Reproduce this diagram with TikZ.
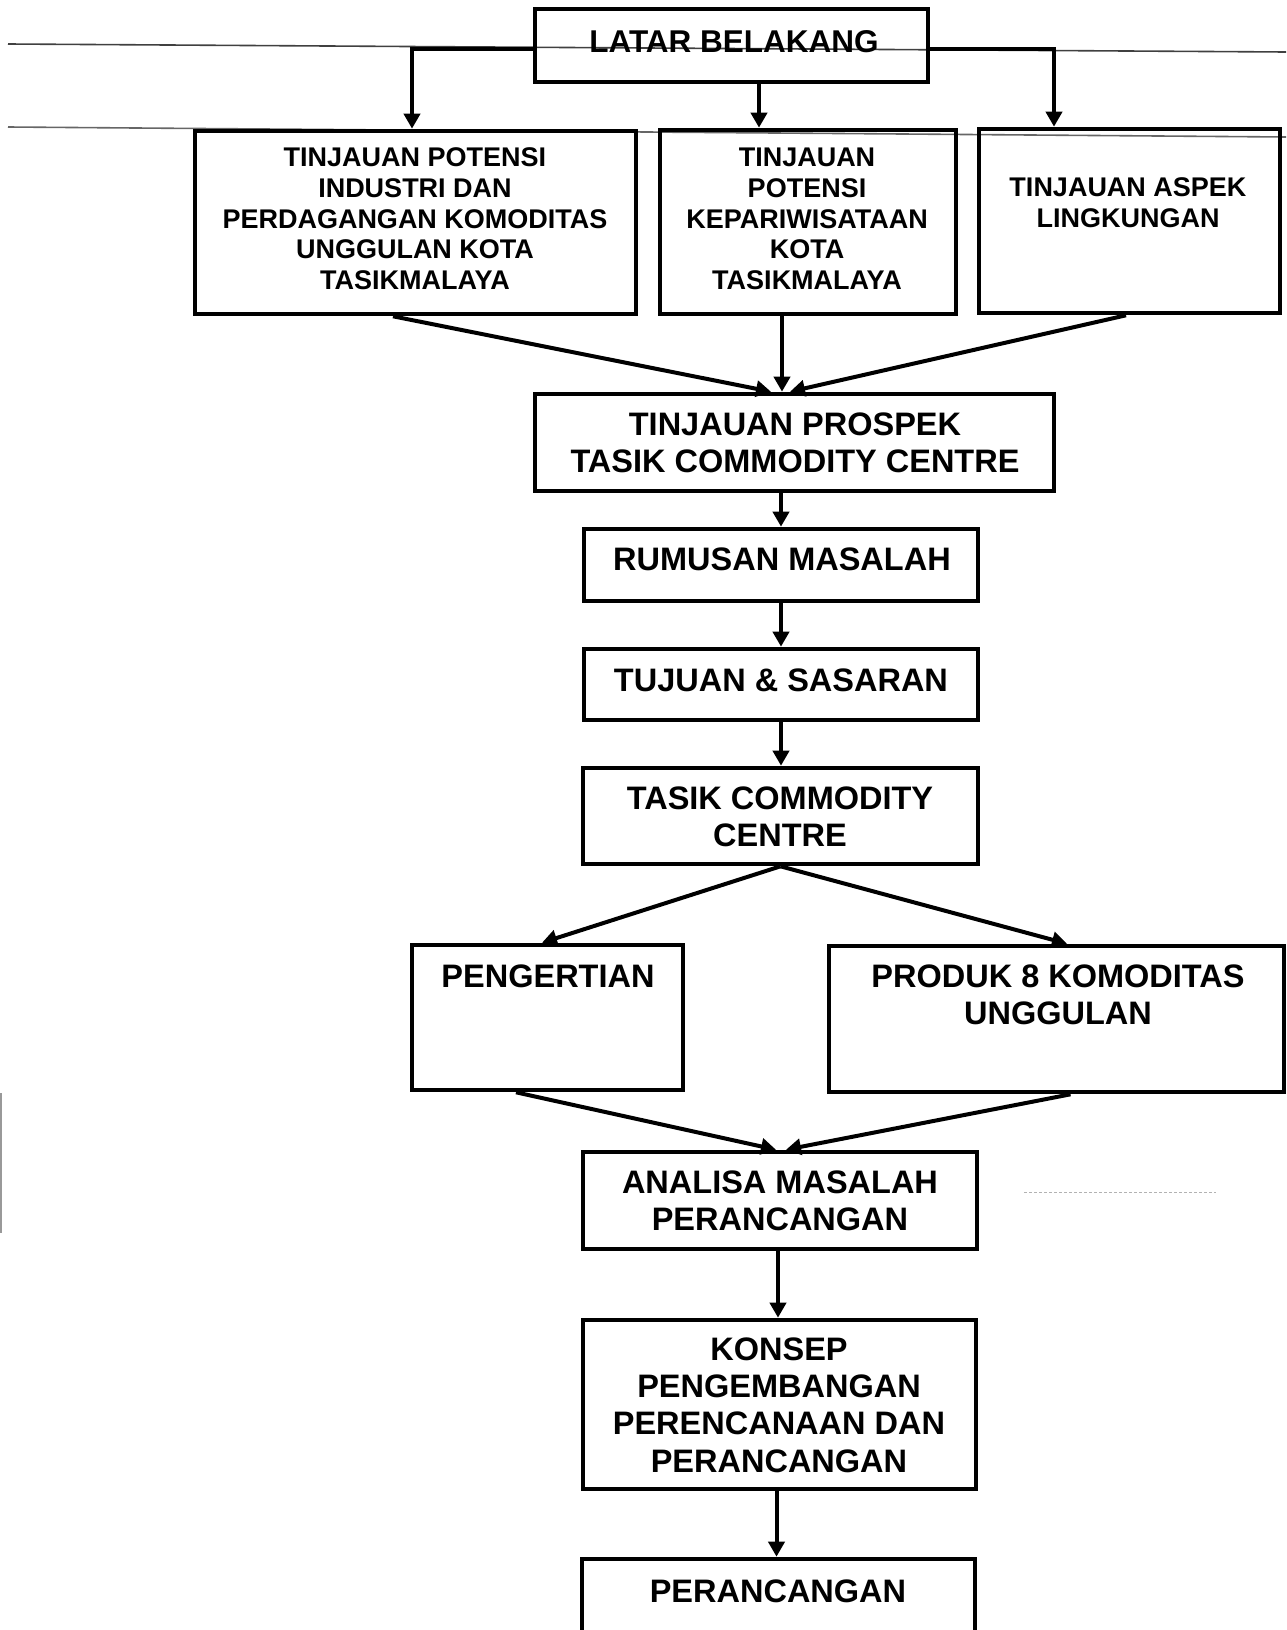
\documentclass[tikz,border=0pt]{standalone}
\usepackage{fontspec}
\setmainfont{Liberation Sans}
\usetikzlibrary{arrows.meta}
\begin{document}
\begin{tikzpicture}[x=1pt,y=-1pt,
  box/.style={draw, line width=4.6pt, rectangle, inner sep=0pt},
  bigtxt/.style={font=\fontsize{32.5}{37.3}\selectfont\bfseries, align=center, inner sep=0pt},
  midtxt/.style={font=\fontsize{31.5}{36}\selectfont\bfseries, align=center, inner sep=0pt},
  smalltxt/.style={font=\fontsize{27}{30.7}\selectfont\bfseries, align=center, inner sep=0pt},
  arr/.style={line width=4pt, -{Triangle[length=15pt,width=16pt]}},
  scan/.style={line width=1.6pt, black!75}]
\useasboundingbox (0,0) rectangle (1286,1630);
\clip (0,0) rectangle (1286,1630);

% scan artefacts
\draw[scan] (8,44) -- (1286,52);
\draw[scan, black!60] (8,127) -- (1286,137);
\draw[black!30, line width=1pt, dash pattern=on 3pt off 2pt] (1024,1192) -- (1216,1192);
\draw[black!40, line width=2pt] (1,1093) -- (1,1233);

% boxes
\node[box, minimum width=393pt, minimum height=73pt]  (lat) at (731.5,45.5) {};
\node[box, minimum width=441pt, minimum height=183pt] (b1)  at (415.5,222.5) {};
\node[box, minimum width=296pt, minimum height=184pt] (b2)  at (808,222) {};
\node[box, minimum width=301pt, minimum height=184pt] (b3)  at (1129.5,221) {};
\node[box, minimum width=519pt, minimum height=97pt]  (pros) at (794.5,442.5) {};
\node[box, minimum width=394pt, minimum height=72pt]  (rum) at (781,565) {};
\node[box, minimum width=394pt, minimum height=71pt]  (tuj) at (781,684.5) {};
\node[box, minimum width=395pt, minimum height=96pt]  (tcc) at (780.5,816) {};
\node[box, minimum width=271pt, minimum height=145pt] (pen) at (547.5,1017.5) {};
\node[box, minimum width=455pt, minimum height=146pt] (pro) at (1056.5,1019) {};
\node[box, minimum width=394pt, minimum height=97pt]  (ana) at (780,1200.5) {};
\node[box, minimum width=393pt, minimum height=169pt] (kon) at (779.5,1404.5) {};
\node[box, minimum width=393pt, minimum height=91pt]  (per) at (778.5,1604.5) {};

% texts
\node[midtxt]   (lat-t)  at (734,42) {LATAR BELAKANG};
\node[smalltxt] (b1-t)   at (415,219) {TINJAUAN POTENSI\\INDUSTRI DAN\\PERDAGANGAN KOMODITAS\\UNGGULAN KOTA\\TASIKMALAYA};
\node[smalltxt] (b2-t)   at (807,219) {TINJAUAN\\POTENSI\\KEPARIWISATAAN\\KOTA\\TASIKMALAYA};
\node[smalltxt] (b3-t)   at (1128,202.5) {TINJAUAN ASPEK\\LINGKUNGAN};
\node[bigtxt]   (pros-t) at (795,442.5) {TINJAUAN PROSPEK\\TASIK COMMODITY CENTRE};
\node[bigtxt]   (rum-t)  at (782,559) {RUMUSAN MASALAH};
\node[bigtxt]   (tuj-t)  at (781,680) {TUJUAN \& SASARAN};
\node[bigtxt]   (tcc-t)  at (780,816.5) {TASIK COMMODITY\\CENTRE};
\node[bigtxt]   (pen-t)  at (548,976) {PENGERTIAN};
\node[bigtxt]   (pro-t)  at (1058,995) {PRODUK 8 KOMODITAS\\UNGGULAN};
\node[bigtxt]   (ana-t)  at (780,1200.5) {ANALISA MASALAH\\PERANCANGAN};
\node[bigtxt]   (kon-t)  at (779,1405) {KONSEP\\PENGEMBANGAN\\PERENCANAAN DAN\\PERANCANGAN};
\node[bigtxt]   (per-t)  at (778,1591) {PERANCANGAN};

% connectors
\draw[arr] ([yshift=-3pt]lat.west) -| ([xshift=-3.5pt]b1.north);
\draw[arr] ([xshift=27.5pt]lat.south) -- ([xshift=27.5pt]lat.south |- b2.north);
\draw[arr] ([yshift=-3pt]lat.east) -| ([xshift=-75.5pt]b3.north);

\draw[arr] ([xshift=-22.5pt]b1.south) -- ([xshift=-23.5pt]pros.north);
\draw[arr] ([xshift=-26pt]b2.south) -- ([xshift=-12.5pt]pros.north);
\draw[arr] ([xshift=-3.5pt]b3.south) -- ([xshift=-4.5pt]pros.north);

\draw[arr] (pros.south -| rum.north) -- (rum.north);
\draw[arr] (rum.south) -- (tuj.north);
\draw[arr] (tuj.south) -- (tuj.south |- tcc.north);

\draw[arr] (tcc.south) -- ([xshift=-5.5pt]pen.north);
\draw[arr] (tcc.south) -- ([xshift=10.5pt]pro.north);

\draw[arr] ([xshift=-31.5pt]pen.south) -- ([xshift=-4pt]ana.north);
\draw[arr] ([xshift=14pt]pro.south) -- ([xshift=6pt]ana.north);

\draw[arr] ([xshift=-2pt]ana.south) -- ([xshift=-2pt]ana.south |- kon.north);
\draw[arr] ([xshift=-3pt]kon.south) -- ([xshift=-3pt]kon.south |- per.north);
\end{tikzpicture}
\end{document}
